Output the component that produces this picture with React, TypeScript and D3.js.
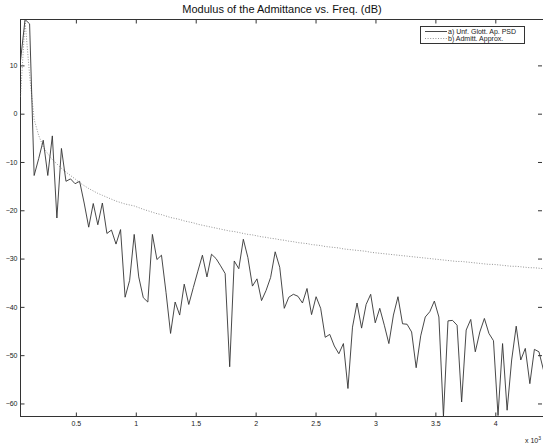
import React, { useRef, useEffect } from 'react';
import * as d3 from 'd3';

// spacing of the spectrum bins (Hz)
const FREQ_STEP = 37.95;

// a) Unf. Glott. Ap. PSD (dB)
const psd = [
  11, 19.5, 18.6, -12.8, -9.3, -5.5, -12.8, -4.6, -21.6, -7.2,
  -14.0, -13.5, -14.5, -14.0, -18.5, -23.5, -18.6, -23.0, -18.5, -24.8,
  -24.1, -27.0, -24.0, -38.0, -34.5, -25.0, -33.8, -38.1, -39.0, -25.0,
  -30.2, -29.3, -37.0, -45.5, -39.0, -41.7, -35.3, -39.5, -36.0, -32.6,
  -29.3, -33.8, -29.1, -30.0, -31.5, -33.1, -52.4, -30.5, -32.1, -26.0,
  -29.8, -35.7, -34.2, -38.7, -36.6, -33.9, -28.6, -31.8, -40.3, -38.0,
  -37.4, -37.8, -39.2, -36.2, -41.6, -37.9, -40.3, -46.3, -45.7, -48.1,
  -49.7, -47.6, -56.9, -44.2, -39.2, -44.4, -39.5, -37.4, -43.3, -40.3,
  -43.8, -47.6, -41.7, -37.9, -43.5, -43.6, -45.2, -52.6, -46.0, -42.1,
  -41.0, -38.8, -42.1, -62.7, -42.9, -42.8, -43.8, -59.7, -44.8, -42.6,
  -49.3, -45.2, -42.4, -45.5, -47.0, -62.5, -47.6, -61.4, -51.0, -44.0,
  -51.0, -48.6, -55.9, -48.8, -49.3, -53.1,
];

// b) Admitt. Approx. (dB)
const approx = [
  3.5, 19.2, 8.0, -1.2, -4.5, -6.9, -8.3, -9.5, -10.4, -11.3,
  -12.1, -12.8, -13.5, -14.3, -14.9, -15.5, -16.0, -16.5, -16.9, -17.3,
  -17.7, -18.1, -18.4, -18.7, -18.9, -19.1, -19.45, -19.8, -20.1, -20.4,
  -20.7, -20.9, -21.2, -21.5, -21.7, -21.9, -22.2, -22.4, -22.6, -22.9,
  -23.1, -23.3, -23.5, -23.7, -23.9, -24.1, -24.3, -24.4, -24.6, -24.8,
  -25.0, -25.1, -25.3, -25.5, -25.6, -25.8, -25.9, -26.1, -26.2, -26.4,
  -26.5, -26.7, -26.8, -26.9, -27.1, -27.2, -27.3, -27.5, -27.6, -27.7,
  -27.8, -28.0, -28.1, -28.2, -28.3, -28.4, -28.5, -28.7, -28.8, -28.9,
  -29.0, -29.1, -29.2, -29.3, -29.4, -29.5, -29.6, -29.7, -29.8, -29.9,
  -30.0, -30.1, -30.2, -30.3, -30.4, -30.5, -30.6, -30.6, -30.7, -30.8,
  -30.9, -31.0, -31.1, -31.2, -31.2, -31.3, -31.4, -31.5, -31.6, -31.6,
  -31.7, -31.8, -31.9, -31.9, -32.0, -32.1,
];

const xTicks = [500, 1000, 1500, 2000, 2500, 3000, 3500, 4000];
const yTicks = [10, 0, -10, -20, -30, -40, -50, -60];
const yDomain = [-62.7, 19.5];
const legendLabels = ['a) Unf. Glott. Ap. PSD', 'b) Admitt. Approx.'];
const title = 'Modulus of the Admittance vs. Freq. (dB)';

const FONT = '"Liberation Sans", Arial, Helvetica, sans-serif';
const AXIS = '#333';

function App() {
  const svgRef = useRef<SVGSVGElement>(null);
  const width = 543;
  const height = 445;
  const left = 20.5;
  const right = 543.5;
  const top = 19.5;
  const bottom = 416.5;

  useEffect(() => {
    const svg = d3.select(svgRef.current);
    svg.selectAll('*').remove();

    const freqs = psd.map((_, i) => (i + 1) * FREQ_STEP);
    const x = d3
      .scaleLinear()
      .domain([freqs[0], freqs[freqs.length - 1]])
      .range([left, right]);
    const y = d3.scaleLinear().domain(yDomain).range([bottom, top]);

    svg
      .append('defs')
      .append('clipPath')
      .attr('id', 'plot-clip')
      .append('rect')
      .attr('x', left)
      .attr('y', top)
      .attr('width', right - left)
      .attr('height', bottom - top);

    // box
    svg
      .append('rect')
      .attr('x', left)
      .attr('y', top)
      .attr('width', right - left)
      .attr('height', bottom - top)
      .attr('fill', 'white')
      .attr('stroke', AXIS)
      .attr('stroke-width', 1);

    const fmtX = (d) => d3.format('~g')(d / 1000);

    const bottomAxis = svg
      .append('g')
      .attr('transform', 'translate(0,' + bottom + ')')
      .call(
        d3.axisBottom(x).tickValues(xTicks).tickFormat(fmtX).tickSizeInner(-4).tickSizeOuter(0).tickPadding(5)
      );
    const topAxis = svg
      .append('g')
      .attr('transform', 'translate(0,' + top + ')')
      .call(d3.axisTop(x).tickValues(xTicks).tickFormat(() => '').tickSizeInner(-4).tickSizeOuter(0));
    const leftAxis = svg
      .append('g')
      .attr('transform', 'translate(' + left + ',0)')
      .call(
        d3.axisLeft(y).tickValues(yTicks).tickFormat(d3.format('d')).tickSizeInner(-4).tickSizeOuter(0).tickPadding(3)
      );
    const rightAxis = svg
      .append('g')
      .attr('transform', 'translate(' + (right - 1.5) + ',0)')
      .call(d3.axisRight(y).tickValues(yTicks).tickFormat(() => '').tickSizeInner(-4).tickSizeOuter(0));

    [bottomAxis, topAxis, leftAxis, rightAxis].forEach((g) => {
      g.select('.domain').remove();
      g.selectAll('line').attr('stroke', AXIS);
      g.selectAll('text')
        .attr('fill', '#222')
        .style('font-family', FONT)
        .style('font-size', '7px');
    });

    // exponent label
    const expo = svg
      .append('text')
      .attr('x', 525)
      .attr('y', 443)
      .attr('fill', '#222')
      .style('font-family', FONT)
      .style('font-size', '7px');
    expo.append('tspan').text('x 10');
    expo.append('tspan').attr('dy', -3).style('font-size', '5px').text('3');

    const plot = svg.append('g').attr('clip-path', 'url(#plot-clip)');

    const line = d3
      .line<number>()
      .x((_, i) => x(freqs[i]))
      .y((d) => y(d));

    plot
      .append('path')
      .attr('d', line(approx))
      .attr('fill', 'none')
      .attr('stroke', '#888')
      .attr('stroke-width', 0.9)
      .attr('stroke-dasharray', '1,1.6');

    plot
      .append('path')
      .attr('d', line(psd))
      .attr('fill', 'none')
      .attr('stroke', '#333')
      .attr('stroke-width', 0.9)
      .attr('stroke-linejoin', 'round');

    // title
    svg
      .append('text')
      .attr('x', (left + right) / 2)
      .attr('y', 13)
      .attr('text-anchor', 'middle')
      .attr('fill', '#111')
      .style('font-family', FONT)
      .style('font-size', '11px')
      .text(title);

    // legend
    const lg = svg.append('g');
    lg.append('rect')
      .attr('x', 420.5)
      .attr('y', 26.5)
      .attr('width', 104)
      .attr('height', 17)
      .attr('fill', 'white')
      .attr('stroke', AXIS)
      .attr('stroke-width', 1);

    const styles = [
      { stroke: '#333', dash: null },
      { stroke: '#888', dash: '1,1.6' },
    ];
    legendLabels.forEach((label, i) => {
      const ly = 31.5 + i * 7;
      lg.append('line')
        .attr('x1', 425)
        .attr('x2', 447)
        .attr('y1', ly)
        .attr('y2', ly)
        .attr('stroke', styles[i].stroke)
        .attr('stroke-width', 0.9)
        .attr('stroke-dasharray', styles[i].dash);
      lg.append('text')
        .attr('x', 448)
        .attr('y', ly + 2.4)
        .attr('fill', '#222')
        .style('font-family', FONT)
        .style('font-size', '7px')
        .text(label);
    });
  }, []);

  return (
    <svg
      ref={svgRef}
      width={width}
      height={height}
      style={{ position: 'absolute', left: 0, top: 0, background: 'white' }}
    ></svg>
  );
}

export default App;
